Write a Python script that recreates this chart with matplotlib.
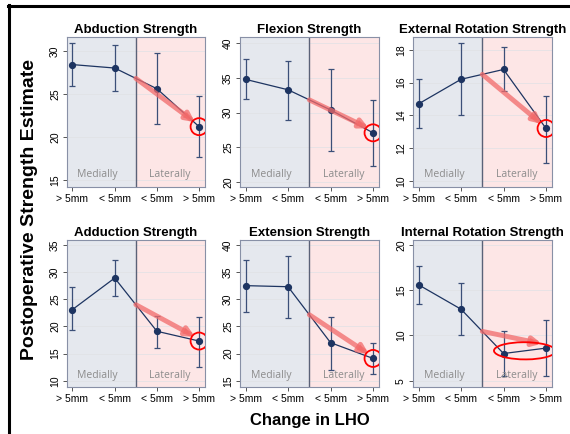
import matplotlib.pyplot as plt
from matplotlib.patches import Ellipse

plt.rcParams['font.family'] = ['Liberation Sans', 'DejaVu Sans']

# data
groups = ["> 5mm", "< 5mm", "< 5mm", "> 5mm"]
titles = ["Abduction Strength", "Flexion Strength", "External Rotation Strength",
          "Adduction Strength", "Extension Strength", "Internal Rotation Strength"]

abduction = [28.4, 28.0, 25.6, 21.2]
abduction_lo = [25.9, 25.3, 21.5, 17.7]
abduction_hi = [30.9, 30.7, 29.7, 24.7]

flexion = [34.8, 33.3, 30.4, 27.1]
flexion_lo = [31.9, 29.0, 24.5, 22.3]
flexion_hi = [37.8, 37.5, 36.3, 31.8]

ext_rot = [14.7, 16.2, 16.8, 13.2]
ext_rot_lo = [13.2, 14.0, 15.5, 11.1]
ext_rot_hi = [16.2, 18.4, 18.2, 15.2]

adduction = [23.1, 28.9, 19.1, 17.3]
adduction_lo = [19.3, 25.5, 16.0, 12.6]
adduction_hi = [27.2, 32.3, 22.0, 21.8]

extension = [32.5, 32.3, 22.0, 19.1]
extension_lo = [27.7, 26.6, 17.0, 16.2]
extension_hi = [37.2, 37.9, 26.8, 22.0]

int_rot = [15.6, 12.9, 8.0, 8.6]
int_rot_lo = [13.5, 10.0, 5.5, 5.5]
int_rot_hi = [17.7, 15.8, 10.5, 11.7]

series = [(abduction, abduction_lo, abduction_hi),
          (flexion, flexion_lo, flexion_hi),
          (ext_rot, ext_rot_lo, ext_rot_hi),
          (adduction, adduction_lo, adduction_hi),
          (extension, extension_lo, extension_hi),
          (int_rot, int_rot_lo, int_rot_hi)]

ylims = [(14.2, 31.6), (19.3, 40.9), (9.63, 18.78),
         (8.84, 35.9), (13.84, 40.9), (4.3, 20.55)]
yticks = [range(15, 31, 5), range(20, 41, 5), range(10, 19, 2),
          range(10, 36, 5), range(15, 41, 5), range(5, 21, 5)]

W, H = 570, 434
fig = plt.figure(figsize=(W / 100, H / 100), dpi=100)

# frame lines of the slide
fig.add_artist(plt.Line2D([9 / W, 9 / W], [0, 1 - 5 / H], color='black', lw=2.2))
fig.add_artist(plt.Line2D([8 / W, 1], [1 - 6 / H, 1 - 6 / H], color='black', lw=2.2))

cols = [(67, 205), (240, 379), (413, 552)]
rows = [(37, 187), (240, 387)]

navy = '#1d3461'
x = [1, 2, 3, 4]

for i in range(6):
    r, c = divmod(i, 3)
    x0, x1 = cols[c]
    y0, y1 = rows[r]
    ax = fig.add_axes([x0 / W, 1 - y1 / H, (x1 - x0) / W, (y1 - y0) / H])
    vals, lo, hi = series[i]

    ax.set_xlim(0.87, 4.14)
    ax.set_ylim(*ylims[i])
    ax.axvspan(0.87, 2.5, color='#e5e8ee', zorder=0)
    ax.axvspan(2.5, 4.14, color='#fde6e6', zorder=0)
    ax.axvline(2.5, color='#5a6278', lw=1, zorder=1)
    for t in yticks[i]:
        ax.axhline(t, color='#e0e1e5', lw=0.5, zorder=0.5)

    yerr = [[v - l for v, l in zip(vals, lo)], [h - v for v, h in zip(vals, hi)]]
    ax.errorbar(x, vals, yerr=yerr, fmt='none', ecolor='#3b4f78', elinewidth=0.9,
                capsize=2.5, capthick=0.9, zorder=3)
    ax.plot(x, vals, color=navy, lw=0.9, marker='o', ms=4.2, zorder=4)

    # red arrow from the divider to the last point
    ymid = (vals[1] + vals[2]) / 2
    yr = ylims[i][1] - ylims[i][0]
    ax.annotate('', xy=(3.9, vals[3] + 0.03 * yr), xytext=(2.5, ymid),
                arrowprops=dict(arrowstyle='-|>,head_width=0.25,head_length=0.5',
                                color='#f26a6a', lw=3.5, alpha=0.75, shrinkA=0, shrinkB=0),
                zorder=5)
    if i == 5:
        ax.add_patch(Ellipse(((x[2] + x[3]) / 2, (vals[2] + vals[3]) / 2), 1.45, 1.9,
                             angle=2, fill=False, edgecolor='red', lw=1.3, zorder=6))
    else:
        ax.scatter([x[3]], [vals[3]], s=150, facecolors='none', edgecolors='red',
                   linewidths=1.3, zorder=6)

    ax.text(1.6, 0.08, 'Medially', transform=ax.get_xaxis_transform(),
            ha='center', va='center', color='#8c8c8c', fontsize=7.5, family='Open Sans')
    ax.text(3.3, 0.08, 'Laterally', transform=ax.get_xaxis_transform(),
            ha='center', va='center', color='#8c8c8c', fontsize=7.5, family='Open Sans')

    ax.set_xticks(x)
    ax.set_xticklabels(groups, fontsize=7.5)
    ax.set_yticks(list(yticks[i]))
    ax.set_yticklabels([str(t) for t in yticks[i]], fontsize=7.5, rotation=90, va='center')
    ax.tick_params(length=3, width=0.7, color='#555555', pad=2)
    for s in ax.spines.values():
        s.set_color('#8890a6')
        s.set_linewidth(0.8)
    ax.set_title(titles[i], fontsize=9.5, fontweight='bold', pad=3)

fig.text(30 / W, 1 - 210 / H, 'Postoperative Strength Estimate', rotation=90,
         ha='center', va='center', fontsize=14, fontweight='bold')
fig.text(310 / W, 1 - 420 / H, 'Change in LHO', ha='center', va='center',
         fontsize=12, fontweight='bold')

fig.savefig('out.png', dpi=100)
